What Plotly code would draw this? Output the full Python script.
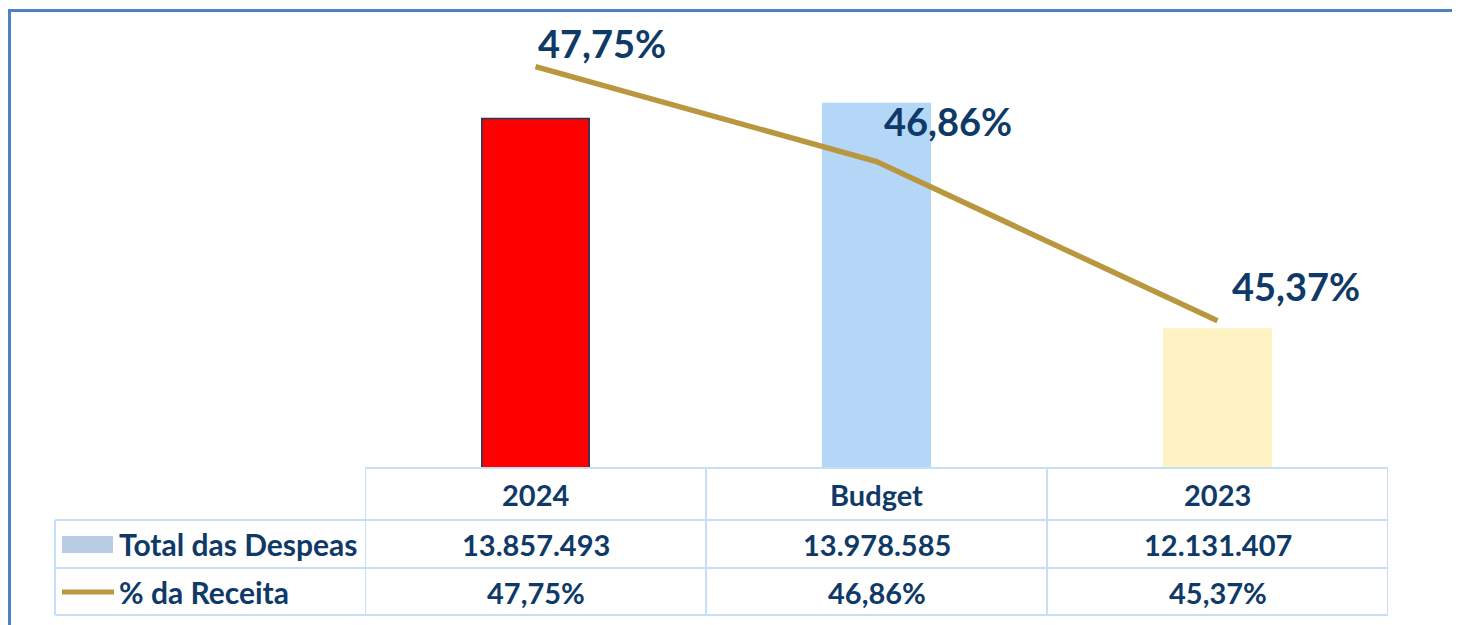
import plotly.graph_objects as go

# ---- data ----
categories = ["2024", "Budget", "2023"]
total_despesas = [13857493, 13978585, 12131407]
pct_receita = [47.75, 46.86, 45.37]
total_labels = ["13.857.493", "13.978.585", "12.131.407"]
pct_labels = ["47,75%", "46,86%", "45,37%"]
row_names = ["Total das Despeas", "% da Receita"]

# ---- styling ----
OFF = 8  # page body margin
W, H = 1460 - OFF, 625 - OFF
NAVY = "#0F3A68"
GOLD = "#B9973F"
GRID = "#C6DFF6"
FRAME = "#4F81BD"
bar_colors = ["#FF0000", "#B4D7F7", "#FFF2C3"]
bar_lines = ["#1F3864", "#B4D7F7", "#FFF2C3"]
FONT = "Lato"

def px(x):
    return (x - OFF) / W

def py(y):
    return 1 - (y - OFF) / H

x_idx = list(range(len(categories)))

fig = go.Figure()
fig.add_trace(go.Bar(
    x=x_idx, y=total_despesas, width=0.315,
    marker=dict(color=bar_colors, line=dict(color=bar_lines, width=1.5)),
    yaxis="y", showlegend=False, hoverinfo="skip",
))
fig.add_trace(go.Scatter(
    x=x_idx, y=pct_receita, mode="lines",
    line=dict(color=GOLD, width=5.5),
    yaxis="y2", showlegend=False, hoverinfo="skip",
))

plot_dom = [py(467), py(10)]
fig.update_layout(
    width=W, height=H,
    margin=dict(l=0, r=0, t=0, b=0),
    paper_bgcolor="white", plot_bgcolor="rgba(0,0,0,0)",
    xaxis=dict(domain=[px(365), px(1388)], range=[-0.5, 2.5],
               visible=False, fixedrange=True),
    yaxis=dict(domain=plot_dom, range=[11.0e6, 14.746e6], visible=False),
    yaxis2=dict(domain=plot_dom, range=[44.0, 48.28], visible=False,
                overlaying="y", side="right"),
    bargap=0.6,
)

shapes = []
# frame
shapes.append(dict(type="line", xref="paper", yref="paper", x0=px(8), x1=1, y0=py(10.5), y1=py(10.5),
                   line=dict(color=FRAME, width=3)))
shapes.append(dict(type="line", xref="paper", yref="paper", x0=px(9.5), x1=px(9.5), y0=py(9), y1=0,
                   line=dict(color=FRAME, width=3)))
# table horizontal lines
row_y = [468, 520, 568, 615]
for i, yy in enumerate(row_y):
    if i == 0:
        shapes.append(dict(type="line", xref="x", yref="paper", x0=-0.5, x1=2.5, y0=py(yy), y1=py(yy),
                           line=dict(color=GRID, width=2)))
    else:
        shapes.append(dict(type="line", xref="paper", yref="paper", x0=px(55), x1=px(1388), y0=py(yy), y1=py(yy),
                           line=dict(color=GRID, width=2)))
# table vertical lines
for xb in [-0.5, 0.5, 1.5, 2.5]:
    shapes.append(dict(type="line", xref="x", yref="paper", x0=xb, x1=xb, y0=py(468), y1=py(615),
                       line=dict(color=GRID, width=2)))
shapes.append(dict(type="line", xref="paper", yref="paper", x0=px(55), x1=px(55), y0=py(520), y1=py(615),
                   line=dict(color=GRID, width=2)))
# legend keys
shapes.append(dict(type="rect", xref="paper", yref="paper", x0=px(62), x1=px(113), y0=py(553), y1=py(536),
                   fillcolor="#B8CCE4", line=dict(width=0)))
shapes.append(dict(type="line", xref="paper", yref="paper", x0=px(62), x1=px(114), y0=py(592), y1=py(592),
                   line=dict(color=GOLD, width=5)))
fig.update_layout(shapes=shapes)

ann = []
tf = dict(family=FONT, size=29, color=NAVY, weight="bold")
for i, c in enumerate(categories):
    ann.append(dict(xref="x", yref="paper", x=i, y=py(494), text=c, showarrow=False,
                    xanchor="center", yanchor="middle", font=tf))
    ann.append(dict(xref="x", yref="paper", x=i, y=py(544), text=total_labels[i], showarrow=False,
                    xanchor="center", yanchor="middle", font=tf))
    ann.append(dict(xref="x", yref="paper", x=i, y=py(592), text=pct_labels[i], showarrow=False,
                    xanchor="center", yanchor="middle", font=tf))
for j, name in enumerate(row_names):
    ann.append(dict(xref="paper", yref="paper", x=px(117), y=py([544, 592][j]), text=name, showarrow=False,
                    xanchor="left", yanchor="middle", font=dict(family=FONT, size=30, color=NAVY, weight="bold")))
# data labels on line
lab_shift = [(0, 24), (5, 41), (12, 35)]
for i, v in enumerate(pct_receita):
    ann.append(dict(xref="x", yref="y2", x=i, y=v, text=pct_labels[i], showarrow=False,
                    xanchor="left", yanchor="middle", xshift=lab_shift[i][0], yshift=lab_shift[i][1],
                    font=dict(family=FONT, size=38, color=NAVY, weight="bold")))
fig.update_layout(annotations=ann)

fig.write_html("out.html")
